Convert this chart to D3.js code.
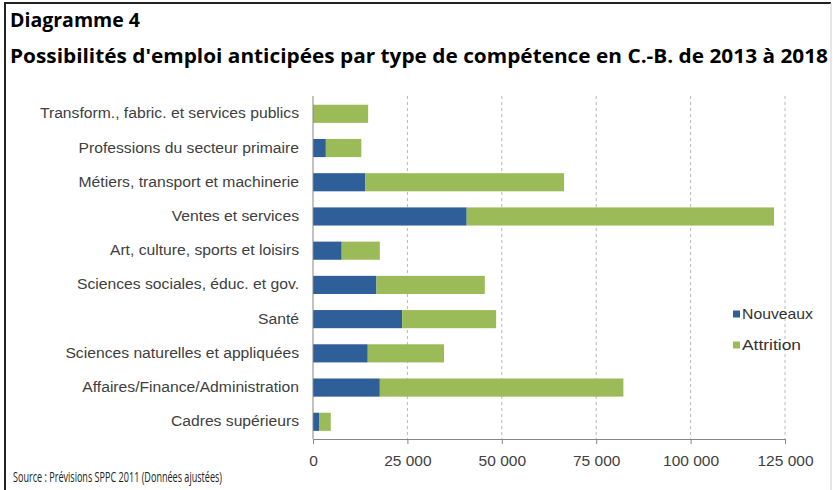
<!DOCTYPE html>
<html>
<head>
<meta charset="utf-8">
<script src="https://cdn.jsdelivr.net/npm/d3@7"></script>
<style>
  body { margin: 0; background: #fff; }
  svg { display: block; }
</style>
</head>
<body>
<div id="chart"></div>
<script>
const categories = [
  'Transform., fabric. et services publics',
  'Professions du secteur primaire',
  'Métiers, transport et machinerie',
  'Ventes et services',
  'Art, culture, sports et loisirs',
  'Sciences sociales, éduc. et gov.',
  'Santé',
  'Sciences naturelles et appliquées',
  'Affaires/Finance/Administration',
  'Cadres supérieurs',
];
const nouveaux = [0, 3400, 13800, 40700, 7600, 16800, 23600, 14500, 17700, 1600];
const attrition = [14600, 9400, 52700, 81400, 10100, 28700, 24900, 20200, 64500, 3100];
const seriesNames = ['Nouveaux', 'Attrition'];
const xTicks = [0, 25000, 50000, 75000, 100000, 125000];

const width = 833;
const height = 490;
const colors = { Nouveaux: '#2e5f98', Attrition: '#9bbb59' };
const textColor = '#404040';

const svg = d3.select('#chart')
  .append('svg')
  .attr('width', width)
  .attr('height', height);

// frame around the picture
svg.append('path')
  .attr('d', `M5,${height} V3 H831`)
  .attr('fill', 'none')
  .attr('stroke', '#222')
  .attr('stroke-width', 2);
svg.append('line')
  .attr('x1', 831).attr('x2', 831).attr('y1', 3).attr('y2', height)
  .attr('stroke', '#ccc');

// titles
svg.append('text')
  .attr('x', 10).attr('y', 27)
  .attr('font-family', '"Open Sans", sans-serif')
  .attr('font-weight', 'bold')
  .attr('font-size', 20)
  .attr('textLength', 130)
  .attr('lengthAdjust', 'spacingAndGlyphs')
  .text('Diagramme 4');

svg.append('text')
  .attr('x', 10).attr('y', 63)
  .attr('font-family', '"Open Sans", sans-serif')
  .attr('font-weight', 'bold')
  .attr('font-size', 20)
  .attr('textLength', 818)
  .attr('lengthAdjust', 'spacingAndGlyphs')
  .text("Possibilités d'emploi anticipées par type de compétence en C.-B. de 2013 à 2018");

const rows = categories.map((c, i) => ({ category: c, Nouveaux: nouveaux[i], Attrition: attrition[i] }));
const stacked = d3.stack().keys(seriesNames)(rows);

const xScale = d3.scaleLinear().domain([0, 125000]).range([313, 785]);
const yScale = d3.scaleBand()
  .domain(categories)
  .range([96.7, 438.9])
  .paddingInner(0.47)
  .paddingOuter(0.235);

// dashed gridlines
svg.append('g')
  .selectAll('line')
  .data(xTicks.slice(1))
  .join('line')
  .attr('x1', (d) => xScale(d)).attr('x2', (d) => xScale(d))
  .attr('y1', 96).attr('y2', 439)
  .attr('stroke', '#b8b8b8')
  .attr('stroke-dasharray', '3,3');

// bars
svg.append('g')
  .selectAll('g')
  .data(stacked)
  .join('g')
  .attr('fill', (s) => colors[s.key])
  .selectAll('rect')
  .data((s) => s)
  .join('rect')
  .attr('x', (d) => xScale(d[0]))
  .attr('y', (d) => yScale(d.data.category))
  .attr('width', (d) => xScale(d[1]) - xScale(d[0]))
  .attr('height', yScale.bandwidth());

// x axis
const xAxis = svg.append('g')
  .attr('transform', 'translate(0,439)')
  .call(d3.axisBottom(xScale)
    .tickValues(xTicks)
    .tickSize(5)
    .tickSizeOuter(0)
    .tickPadding(11)
    .tickFormat((d) => d3.format(',')(d).replace(/,/g, ' ')));
xAxis.select('.domain').attr('stroke', '#868686');
xAxis.selectAll('line').attr('stroke', '#868686');
xAxis.selectAll('text')
  .attr('font-family', '"Liberation Sans", Arial, sans-serif')
  .attr('font-size', 15.5)
  .attr('fill', textColor);

// y axis
const yAxis = svg.append('g')
  .attr('transform', 'translate(313,0)')
  .call(d3.axisLeft(yScale).tickSize(0).tickPadding(14));
yAxis.select('.domain').attr('stroke', '#868686').attr('d', 'M0,96V439');
yAxis.selectAll('text')
  .attr('font-family', '"Liberation Sans", Arial, sans-serif')
  .attr('font-size', 14)
  .attr('fill', textColor)
  .attr('lengthAdjust', 'spacingAndGlyphs')
  .attr('textLength', function () { return this.getComputedTextLength() * 1.12; });

// legend
const legend = svg.append('g')
  .selectAll('g')
  .data(seriesNames)
  .join('g')
  .attr('transform', (d, i) => `translate(733, ${314 + i * 31})`);
legend.append('rect')
  .attr('x', 0).attr('y', -3.5)
  .attr('width', 7).attr('height', 7)
  .attr('fill', (d) => colors[d]);
legend.append('text')
  .attr('x', 9).attr('dy', '0.35em')
  .attr('font-family', '"Liberation Sans", Arial, sans-serif')
  .attr('font-size', 15)
  .attr('fill', '#333')
  .attr('textLength', (d) => (d === 'Nouveaux' ? 71 : 59))
  .attr('lengthAdjust', 'spacingAndGlyphs')
  .text((d) => d);

// source
svg.append('text')
  .attr('x', 13).attr('y', 482)
  .attr('font-family', '"Open Sans", sans-serif')
  .attr('font-size', 15)
  .attr('textLength', 209)
  .attr('lengthAdjust', 'spacingAndGlyphs')
  .attr('fill', '#222')
  .text('Source : Prévisions SPPC 2011 (Données ajustées)');
</script>
</body>
</html>
